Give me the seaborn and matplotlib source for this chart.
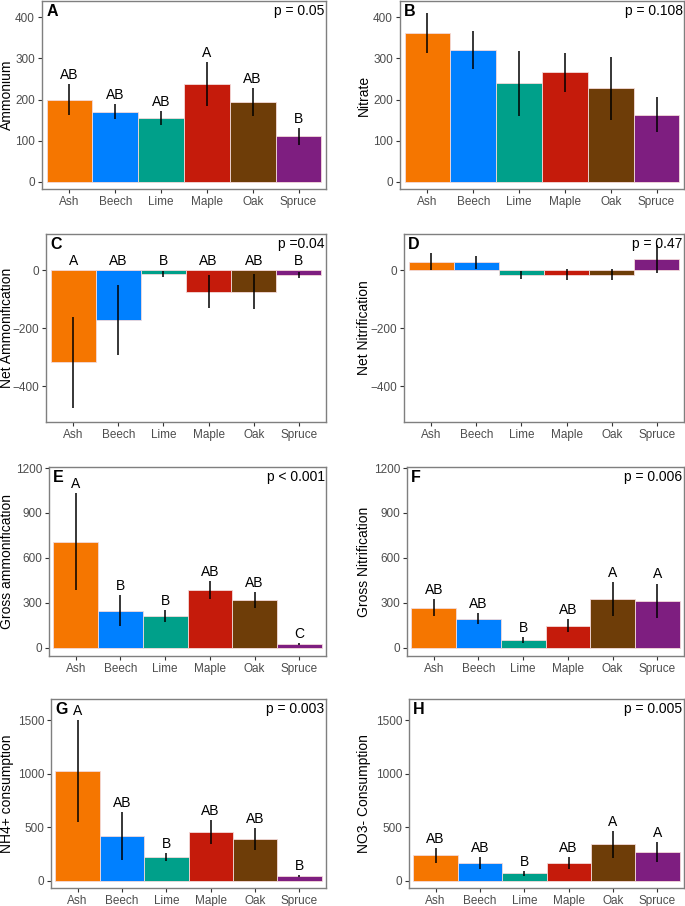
import numpy as np
import pandas as pd
import matplotlib
matplotlib.use('Agg')
import matplotlib.pyplot as plt
import matplotlib.transforms as mtrans
import seaborn as sns

sns.set_theme(style='white')
plt.rcParams['font.family'] = ['Liberation Sans', 'DejaVu Sans']

# ---- data ----
trees = ['Ash', 'Beech', 'Lime', 'Maple', 'Oak', 'Spruce']
tree_colors = ['#F57600', '#0080FF', '#00A08A', '#C51B0B', '#6E3D08', '#7E1E80']

ammonium = [200, 170, 154, 237, 194, 110]
ammonium_se = [37, 18, 17, 54, 33, 20]
ammonium_grp = ['AB', 'AB', 'AB', 'A', 'AB', 'B']

nitrate = [362, 321, 240, 266, 227, 163]
nitrate_se = [49, 47, 79, 48, 76, 42]

net_ammon = [-317, -171, -12, -73, -73, -15]
net_ammon_se = [158, 121, 10, 58, 61, 10]
net_ammon_grp = ['A', 'AB', 'B', 'AB', 'AB', 'B']

net_nitr = [30, 28, -16, -14, -14, 39]
net_nitr_se = [30, 23, 13, 18, 19, 49]

gross_ammon = [708, 247, 211, 383, 317, 23]
gross_ammon_se = [324, 103, 39, 60, 54, 5]
gross_ammon_grp = ['A', 'B', 'B', 'AB', 'AB', 'C']

gross_nitr = [268, 192, 50, 147, 325, 312]
gross_nitr_se = [54, 37, 20, 43, 115, 116]
gross_nitr_grp = ['AB', 'AB', 'B', 'AB', 'A', 'A']

nh4_cons = [1025, 417, 222, 458, 392, 43]
nh4_cons_se = [478, 227, 34, 114, 105, 10]
nh4_cons_grp = ['A', 'AB', 'B', 'AB', 'AB', 'B']

no3_cons = [238, 164, 68, 164, 340, 271]
no3_cons_se = [70, 54, 24, 57, 125, 92]
no3_cons_grp = ['AB', 'AB', 'B', 'AB', 'A', 'A']

panels = [
    # letter, ylabel, values, se, groups, p-text, ylim, yticks, rect(px: left, top, right, bottom)
    ('A', 'Ammonium', ammonium, ammonium_se, ammonium_grp, 'p = 0.05', (-18, 440), [0, 100, 200, 300, 400], (42, 1, 326, 189)),
    ('B', 'Nitrate', nitrate, nitrate_se, None, 'p = 0.108', (-18, 440), [0, 100, 200, 300, 400], (400, 1, 684, 189)),
    ('C', 'Net Ammonification', net_ammon, net_ammon_se, net_ammon_grp, 'p =0.04', (-523, 126), [-400, -200, 0], (46, 234, 326, 422)),
    ('D', 'Net Nitrification', net_nitr, net_nitr_se, None, 'p = 0.47', (-523, 126), [-400, -200, 0], (404, 234, 684, 422)),
    ('E', 'Gross ammonification', gross_ammon, gross_ammon_se, gross_ammon_grp, 'p < 0.001', (-56, 1207), [0, 300, 600, 900, 1200], (49, 467, 326, 656)),
    ('F', 'Gross Nitrification', gross_nitr, gross_nitr_se, gross_nitr_grp, 'p = 0.006', (-56, 1207), [0, 300, 600, 900, 1200], (407, 467, 684, 656)),
    ('G', 'NH4+ consumption', nh4_cons, nh4_cons_se, nh4_cons_grp, 'p = 0.003', (-68, 1700), [0, 500, 1000, 1500], (51, 699, 326, 888)),
    ('H', 'NO3- Consumption', no3_cons, no3_cons_se, no3_cons_grp, 'p = 0.005', (-68, 1700), [0, 500, 1000, 1500], (409, 699, 684, 888)),
]

W, H = 685, 906
fig = plt.figure(figsize=(W / 100, H / 100), dpi=100)
pal = dict(zip(trees, tree_colors))

for letter, ylab, vals, se, grp, ptxt, ylim, yticks, (l, t, r, b) in panels:
    ax = fig.add_axes([l / W, 1 - b / H, (r - l) / W, (b - t) / H])
    d = pd.DataFrame({'tree': trees, 'val': vals, 'se': se})
    sns.barplot(data=d, x='tree', y='val', hue='tree', palette=pal, width=1.0, saturation=1,
                errorbar=None, legend=False, ax=ax, edgecolor='#f3dada', linewidth=0.6)
    xs = np.arange(len(trees))
    ax.errorbar(xs, d['val'], yerr=d['se'], fmt='none', ecolor='black', elinewidth=1.1, capsize=0)
    if grp is not None:
        tops = np.maximum(d['val'] + d['se'], 0)
        for x, yt, g in zip(xs, tops, grp):
            ax.annotate(g, (x, yt), xytext=(0, 1.5), textcoords='offset points',
                        ha='center', va='bottom', fontsize=10, color='black')
    ax.set_xlim(-0.6, 5.6)
    ax.set_ylim(*ylim)
    ax.set_yticks(yticks)
    ax.set_xlabel('')
    ax.set_ylabel(ylab, fontsize=10, color='black')
    # y labels sit at a fixed distance from the figure edge / column start
    lab_x = 14 if l < 200 else 371
    ax.yaxis.set_label_coords(lab_x / W, 0.5,
                              transform=mtrans.blended_transform_factory(fig.transFigure, ax.transAxes))
    for s in ax.spines.values():
        s.set_color('#7f7f7f')
        s.set_linewidth(1.0)
    ax.tick_params(axis='both', which='both', length=3, width=0.8, color='#333333',
                   labelsize=8.5, labelcolor='#4d4d4d', pad=2, direction='out',
                   bottom=True, left=True)
    ax.text(0.015, 0.985, letter, transform=ax.transAxes, ha='left', va='top',
            fontsize=11.5, fontweight='bold', color='black')
    ax.text(0.995, 0.985, ptxt, transform=ax.transAxes, ha='right', va='top',
            fontsize=10, color='black')

plt.savefig('out.png', dpi=100)
